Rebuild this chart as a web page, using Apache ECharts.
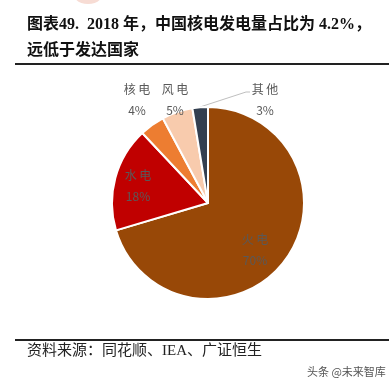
<!DOCTYPE html>
<html>
<head>
<meta charset="utf-8">
<script src="https://cdn.jsdelivr.net/npm/echarts@6/dist/echarts.min.js"></script>
<style>
html,body{margin:0;padding:0;background:#fff;}
#chart{width:389px;height:385px;}
</style>
</head>
<body>
<div id="chart"></div>
<script>
// Data
var categories = ['火电', '水电', '核电', '风电', '其他'];
var shares = [70.4, 17.6, 4.2, 5.2, 2.6];
var shareLabels = ['70%', '18%', '4%', '5%', '3%'];
var colors = ['#984807', '#C00000', '#ED7D31', '#F8CBAD', '#333F50'];

var titleText = '图表49.  2018 年，中国核电发电量占比为 4.2%，\n远低于发达国家';
var sourceText = '资料来源：同花顺、IEA、广证恒生';
var watermarkText = '头条 @未来智库';

// label placement (pixel anchors for each label)
var labelAnchors = [[255, 250], [138, 186], [137, 100], [175, 100], [265, 100]];

var chart = echarts.init(document.getElementById('chart'), null, {renderer: 'canvas'});

var serif = "'Liberation Serif', 'Noto Sans CJK SC', serif";
var labelFont = "'Noto Sans CJK SC', 'Liberation Sans', sans-serif";

var pieData = categories.map(function (c, i) {
  return {
    name: c,
    value: shares[i],
    itemStyle: {color: colors[i]},
    label: {show: true},
    labelLine: {show: i === 4}
  };
});

var option = {
  backgroundColor: '#fff',
  animation: false,
  title: {
    text: titleText,
    left: 27,
    top: 12,
    padding: 0,
    textStyle: {
      fontFamily: serif,
      fontSize: 16,
      fontWeight: 'bold',
      color: '#111',
      lineHeight: 26
    }
  },
  graphic: [
    {type: 'ellipse', shape: {cx: 88, cy: -5, rx: 14, ry: 9}, style: {fill: '#f7dcd4'}, silent: true},
    {type: 'line', shape: {x1: 15, y1: 64, x2: 389, y2: 64}, style: {stroke: '#222', lineWidth: 2}},
    {type: 'line', shape: {x1: 15, y1: 340, x2: 389, y2: 340}, style: {stroke: '#222', lineWidth: 2}},
    {type: 'text', left: 27, top: 344, style: {text: sourceText, font: "15px " + serif, fill: '#222'}},
    {type: 'text', left: 307, top: 366, style: {text: watermarkText, font: "11px 'Noto Sans CJK SC', sans-serif", fill: '#555'}}
  ],
  series: [{
    type: 'pie',
    center: [208, 203],
    radius: [0, 96],
    startAngle: 90,
    clockwise: true,
    avoidLabelOverlap: false,
    itemStyle: {borderColor: '#fff', borderWidth: 2},
    label: {
      position: 'outside',
      formatter: function (p) {
        return '{n|' + p.name.split('').join(' ') + '}\n{v|' + shareLabels[p.dataIndex] + '}';
      },
      rich: {
        n: {fontFamily: labelFont, fontSize: 12, color: '#595959', lineHeight: 21, align: 'center'},
        v: {fontFamily: labelFont, fontSize: 12, color: '#595959', lineHeight: 21, align: 'center'}
      }
    },
    labelLine: {lineStyle: {color: '#BFBFBF', width: 1}, length: 10, length2: 10},
    labelLayout: function (params) {
      var a = labelAnchors[params.dataIndex];
      var res = {x: a[0], y: a[1], align: 'center', verticalAlign: 'middle'};
      if (params.dataIndex === 4) {
        res.labelLinePoints = [[200, 107], [246, 92], [250, 92]];
      }
      return res;
    },
    data: pieData
  }]
};
chart.setOption(option);
</script>
</body>
</html>
